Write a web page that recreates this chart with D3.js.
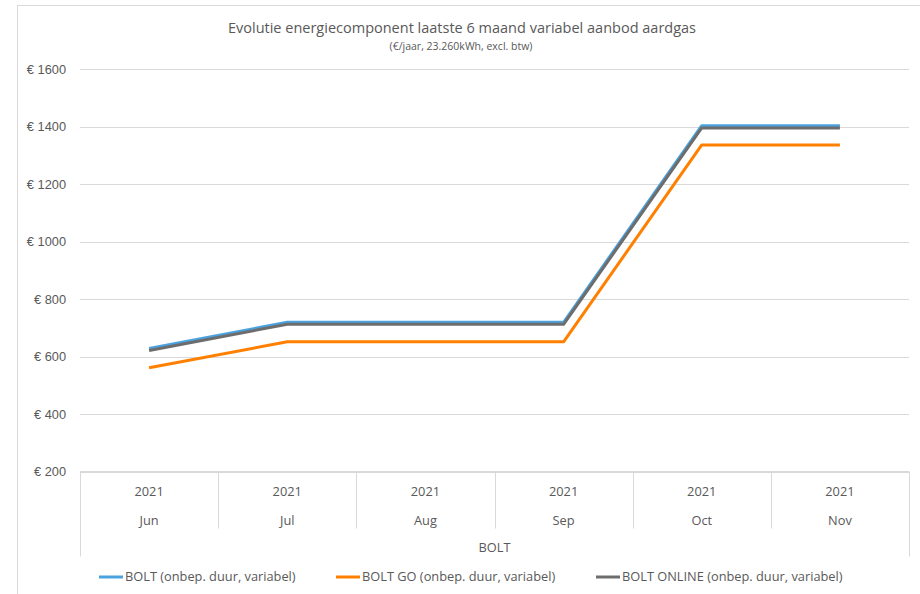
<!DOCTYPE html>
<html>
<head>
<meta charset="utf-8">
<script src="https://cdn.jsdelivr.net/npm/d3@7"></script>
<style>
  body { margin: 0; background: #fff; }
  svg { font-family: "Open Sans", "Liberation Sans", sans-serif; }
</style>
</head>
<body>
<svg id="chart" width="920" height="594"></svg>
<script>
const months = ["Jun", "Jul", "Aug", "Sep", "Oct", "Nov"];
const years = ["2021", "2021", "2021", "2021", "2021", "2021"];
const group = "BOLT";
const yTicks = [200, 400, 600, 800, 1000, 1200, 1400, 1600];

const bolt = [628, 719, 719, 719, 1403, 1403];
const boltGo = [561, 651, 651, 651, 1336, 1336];
const boltOnline = [621, 712, 712, 712, 1395, 1395];

const seriesNames = [
  "BOLT (onbep. duur, variabel)",
  "BOLT GO (onbep. duur, variabel)",
  "BOLT ONLINE (onbep. duur, variabel)"
];
const colors = ["#4aa3df", "#ff8000", "#6d6d6d"];

const width = 920;
const height = 594;
const margin = { top: 69, right: 11, bottom: 122, left: 80 };
const textColor = "#595959";
const lineColor = "#d9d9d9";
const fs = "12.8px";

const svg = d3.select("#chart");

// chart border
svg.append("rect")
  .attr("x", 17.5).attr("y", 5.5)
  .attr("width", 920).attr("height", 620)
  .attr("fill", "none").attr("stroke", lineColor);

const x = d3.scaleBand()
  .domain(months)
  .range([margin.left, width - margin.right])
  .padding(0);

const y = d3.scaleLinear()
  .domain([200, 1600])
  .range([height - margin.bottom - 0.5, margin.top]);

// gridlines + y labels
const yAxis = svg.append("g")
  .attr("transform", `translate(${margin.left},0)`)
  .call(d3.axisLeft(y).tickValues(yTicks)
    .tickSize(-(width - margin.left - margin.right))
    .tickPadding(14)
    .tickFormat(d => "€ " + d));
yAxis.select(".domain").remove();
yAxis.selectAll(".tick line").attr("stroke", lineColor).attr("shape-rendering", "crispEdges");
yAxis.selectAll(".tick text")
  .attr("fill", textColor)
  .style("font-size", fs);

// category table under the plot
const table = svg.append("g");
const tTop = y(200);
const x0 = margin.left, x1 = width - margin.right;
table.append("line")
  .attr("x1", x0).attr("x2", x1).attr("y1", tTop).attr("y2", tTop)
  .attr("stroke", lineColor);
months.forEach((m, i) => {
  if (i === 0) return;
  table.append("line")
    .attr("x1", Math.round(x(m)) + 0.5).attr("x2", Math.round(x(m)) + 0.5)
    .attr("y1", tTop).attr("y2", tTop + 57)
    .attr("stroke", lineColor);
});
[x0, x1].forEach(px => {
  table.append("line")
    .attr("x1", Math.round(px) + 0.5).attr("x2", Math.round(px) + 0.5)
    .attr("y1", tTop).attr("y2", tTop + 85)
    .attr("stroke", lineColor);
});
table.selectAll(".yr")
  .data(months)
  .join("text")
  .attr("x", d => x(d) + x.bandwidth() / 2)
  .attr("y", tTop + 20)
  .attr("dy", "0.35em")
  .attr("text-anchor", "middle")
  .attr("fill", textColor)
  .style("font-size", fs)
  .text((d, i) => years[i]);
table.selectAll(".mo")
  .data(months)
  .join("text")
  .attr("x", d => x(d) + x.bandwidth() / 2)
  .attr("y", tTop + 49)
  .attr("dy", "0.35em")
  .attr("text-anchor", "middle")
  .attr("fill", textColor)
  .style("font-size", fs)
  .text(d => d);
table.append("text")
  .attr("x", (x0 + x1) / 2)
  .attr("y", tTop + 76)
  .attr("dy", "0.35em")
  .attr("text-anchor", "middle")
  .attr("fill", textColor)
  .style("font-size", fs)
  .text(group);

// lines
const line = d3.line()
  .x((d, i) => x(months[i]) + x.bandwidth() / 2)
  .y(d => y(d));

[bolt, boltGo, boltOnline].forEach((s, k) => {
  svg.append("path")
    .datum(s)
    .attr("d", line)
    .attr("fill", "none")
    .attr("stroke", colors[k])
    .attr("stroke-width", 3)
    .attr("stroke-linejoin", "round");
});

// title
svg.append("text")
  .attr("x", 462).attr("y", 28)
  .attr("dy", "0.35em")
  .attr("text-anchor", "middle")
  .attr("fill", textColor)
  .style("font-size", "14.5px")
  .text("Evolutie energiecomponent laatste 6 maand variabel aanbod aardgas");
svg.append("text")
  .attr("x", 461).attr("y", 46)
  .attr("dy", "0.35em")
  .attr("text-anchor", "middle")
  .attr("fill", textColor)
  .style("font-size", "10.5px")
  .text("(€/jaar, 23.260kWh, excl. btw)");

// legend
const legendX = [99, 336, 596];
const legend = svg.append("g");
seriesNames.forEach((n, k) => {
  legend.append("line")
    .attr("x1", legendX[k]).attr("x2", legendX[k] + 24)
    .attr("y1", 577).attr("y2", 577)
    .attr("stroke", colors[k]).attr("stroke-width", 3);
  legend.append("text")
    .attr("x", legendX[k] + 26)
    .attr("y", 577)
    .attr("dy", "0.35em")
    .attr("fill", textColor)
    .style("font-size", fs)
    .text(n);
});
</script>
</body>
</html>
